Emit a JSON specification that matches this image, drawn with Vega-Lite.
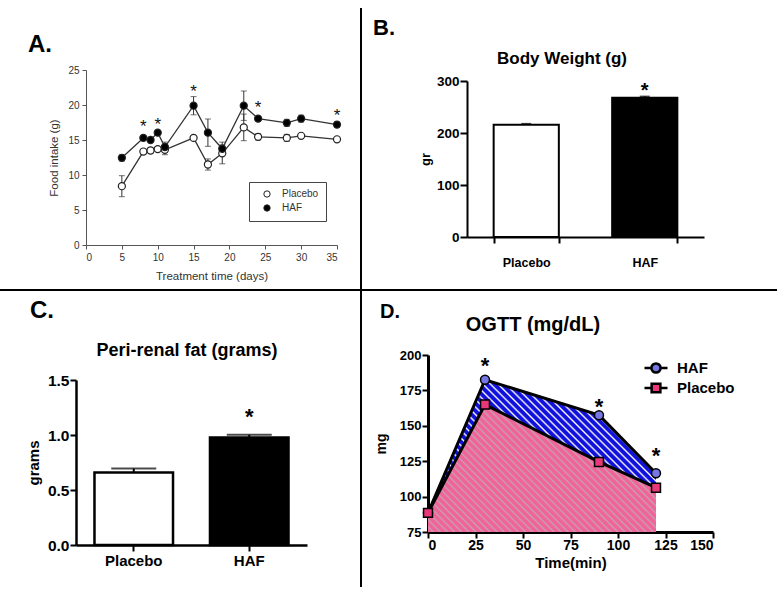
{
"$schema": "https://vega.github.io/schema/vega-lite/v6.json",
"background": "white",
"padding": 0,
"config": {"font": "Liberation Sans", "view": {"stroke": null}, "axis": {"grid": false}, "title": {"color": "black"}},
"datasets": {
"food": [
{"day":5,"g":"Placebo","m":8.4,"lo":6.9,"hi":9.9},
{"day":8,"g":"Placebo","m":13.35,"lo":13.0,"hi":13.7},
{"day":9,"g":"Placebo","m":13.5,"lo":13.1,"hi":13.9},
{"day":10,"g":"Placebo","m":13.7,"lo":13.4,"hi":14.0},
{"day":11,"g":"Placebo","m":13.6,"lo":12.9,"hi":14.4},
{"day":15,"g":"Placebo","m":15.3,"lo":15.1,"hi":15.5},
{"day":17,"g":"Placebo","m":11.5,"lo":10.7,"hi":12.3},
{"day":19,"g":"Placebo","m":13.1,"lo":11.6,"hi":14.7},
{"day":22,"g":"Placebo","m":16.8,"lo":14.9,"hi":18.7},
{"day":24,"g":"Placebo","m":15.45,"lo":15.0,"hi":15.9},
{"day":28,"g":"Placebo","m":15.3,"lo":14.8,"hi":15.8},
{"day":30,"g":"Placebo","m":15.6,"lo":15.4,"hi":15.8},
{"day":35,"g":"Placebo","m":15.1,"lo":14.9,"hi":15.3},
{"day":5,"g":"HAF","m":12.45,"lo":12.0,"hi":12.9},
{"day":8,"g":"HAF","m":15.3,"lo":15.1,"hi":15.5},
{"day":9,"g":"HAF","m":15.0,"lo":14.8,"hi":15.2},
{"day":10,"g":"HAF","m":16.05,"lo":15.85,"hi":16.25},
{"day":11,"g":"HAF","m":14.0,"lo":13.3,"hi":14.7},
{"day":15,"g":"HAF","m":19.9,"lo":18.6,"hi":21.2},
{"day":17,"g":"HAF","m":16.05,"lo":14.1,"hi":18.0},
{"day":19,"g":"HAF","m":13.75,"lo":13.2,"hi":14.3},
{"day":22,"g":"HAF","m":19.9,"lo":17.8,"hi":22.0},
{"day":24,"g":"HAF","m":18.05,"lo":17.8,"hi":18.3},
{"day":28,"g":"HAF","m":17.45,"lo":16.95,"hi":17.95},
{"day":30,"g":"HAF","m":18.05,"lo":17.55,"hi":18.55},
{"day":35,"g":"HAF","m":17.2,"lo":16.8,"hi":17.6}
],
"foodstar": [{"day":8,"y":17.4},{"day":10,"y":17.7},{"day":15,"y":22.5},{"day":24,"y":20.1},{"day":35,"y":19.0}],
"bw": [{"g":"Placebo","v":216,"hi":218},{"g":"HAF","v":268,"hi":270.5}],
"bwstar": [{"g":"HAF","y":290}],
"fat": [{"g":"Placebo","v":0.66,"hi":0.695},{"g":"HAF","v":0.978,"hi":1.002}],
"fatstar": [{"g":"HAF","y":1.21}],
"ogtt": [
{"t":0,"g":"HAF","v":88.5},{"t":30,"g":"HAF","v":182.5},{"t":90,"g":"HAF","v":157.5},{"t":120,"g":"HAF","v":116.5},
{"t":0,"g":"Placebo","v":88.5},{"t":30,"g":"Placebo","v":165},{"t":90,"g":"Placebo","v":124.5},{"t":120,"g":"Placebo","v":106.3}
],
"ogttstar": [{"t":30,"y":196},{"t":90,"y":166.6},{"t":120,"y":132.4}]
},
"columns": 3,
"align": "each",
"bounds": "flush",
"spacing": 0,
"resolve": {"scale": {"fill": "independent", "shape": "independent", "color": "independent"}, "legend": {"fill": "independent", "shape": "independent", "color": "independent"}},
"concat": [
{"width":360,"height":4,"data":{"values":[{}]},"mark":"text","encoding":{"text":{"value":""}},
 "title":{"text":"A.","anchor":"start","frame":"group","dx":28,"offset":-75.5,"baseline":"alphabetic","fontSize":24,"fontWeight":"bold"}},
{"width":2,"height":4,"data":{"values":[{}]},"mark":"text","encoding":{"text":{"value":""}}},
{"width":420,"height":4,"data":{"values":[{}]},"mark":"text","encoding":{"text":{"value":""}},
 "title":{"text":"B.","anchor":"start","frame":"group","dx":11,"offset":-57,"baseline":"alphabetic","fontSize":22,"fontWeight":"bold"}},

{"width":360,"height":281,"data":{"name":"food"},
 "layer":[
  {"mark":{"type":"errorbar","ticks":{"size":6},"color":"#333","thickness":1},
   "encoding":{
    "x":{"field":"day","type":"quantitative","title":"Treatment time (days)","scale":{"domain":[0,35],"nice":false,"range":[86,337]},
         "axis":{"offset":-44,"values":[0,5,10,15,20,25,30,35],"domainColor":"#555","tickColor":"#555","labelColor":"#333","titleColor":"#333","labelFontSize":10,"titleFontSize":11.5,"titleFontWeight":"normal","tickSize":4,"labelPadding":3,"titlePadding":8}},
    "y":{"field":"lo","type":"quantitative","title":"Food intake (g)","scale":{"domain":[0,25],"nice":false,"range":[237,62]},
         "axis":{"offset":-86,"values":[0,5,10,15,20,25],"domainColor":"#555","tickColor":"#555","labelColor":"#333","titleColor":"#333","labelFontSize":10,"titleFontSize":11.5,"titleFontWeight":"normal","tickSize":4,"labelPadding":3,"titlePadding":8}},
    "y2":{"field":"hi"}}},
  {"mark":{"type":"line","color":"#333","strokeWidth":1.3},
   "encoding":{"x":{"field":"day","type":"quantitative","title":"Treatment time (days)"},"y":{"field":"m","type":"quantitative","title":"Food intake (g)"},"detail":{"field":"g"}}},
  {"mark":{"type":"point","filled":true,"size":50,"stroke":"#222","strokeWidth":1.2,"opacity":1},
   "encoding":{"x":{"field":"day","type":"quantitative","title":"Treatment time (days)"},"y":{"field":"m","type":"quantitative","title":"Food intake (g)"},
    "fill":{"field":"g","type":"nominal","scale":{"domain":["Placebo","HAF"],"range":["white","black"]},
      "legend":{"title":null,"orient":"none","legendX":249,"legendY":174,"strokeColor":"#444","fillColor":"white","padding":7,"symbolSize":40,"symbolStrokeColor":"#222","symbolStrokeWidth":1,"symbolOffset":6,"labelOffset":10,"labelFontSize":10,"labelColor":"#333","rowPadding":2}}}},
  {"data":{"name":"foodstar"},"mark":{"type":"text","text":"*","fontSize":17,"dy":4,"color":"#111"},
   "encoding":{"x":{"field":"day","type":"quantitative","title":"Treatment time (days)"},"y":{"field":"y","type":"quantitative","title":"Food intake (g)"}}}
 ]},
{"width":2,"height":281,"view":{"fill":"black","stroke":null},"data":{"values":[{}]},"mark":"text","encoding":{"text":{"value":""}}},
{"width":420,"height":281,"data":{"name":"bw"},
 "title":{"text":"Body Weight (g)","anchor":"start","align":"center","frame":"group","dx":200,"offset":-73,"baseline":"alphabetic","fontSize":17,"fontWeight":"bold"},
 "encoding":{"x":{"field":"g","type":"nominal","sort":["Placebo","HAF"],"title":null,"scale":{"paddingInner":0.45,"paddingOuter":0.225,"range":[105,342]},
    "axis":{"offset":-52,"labelAngle":0,"tickBand":"extent","labelFontSize":12.5,"labelFontWeight":"bold","labelColor":"black","domainColor":"black","domainWidth":2,"tickColor":"black","tickWidth":2,"tickSize":6,"labelPadding":13}}},
 "layer":[
  {"mark":{"type":"bar","stroke":"black","strokeWidth":2},
   "encoding":{"y":{"field":"v","type":"quantitative","title":"gr","scale":{"domain":[0,300],"nice":false,"range":[229,73]},
      "axis":{"offset":-105,"values":[0,100,200,300],"labelFontSize":13.5,"labelFontWeight":"bold","labelColor":"black","domainColor":"black","domainWidth":2,"tickColor":"black","tickWidth":2,"tickSize":7,"labelPadding":1,"titleFontSize":13,"titleFontWeight":"bold","titlePadding":4}},
    "fill":{"field":"g","type":"nominal","scale":{"domain":["Placebo","HAF"],"range":["white","black"]},"legend":null}}},
  {"mark":{"type":"rule","color":"black","strokeWidth":1.5},"encoding":{"y":{"field":"v","type":"quantitative","title":"gr"},"y2":{"field":"hi"}}},
  {"mark":{"type":"tick","color":"black","thickness":1.5,"size":10},"encoding":{"y":{"field":"hi","type":"quantitative","title":"gr"}}},
  {"data":{"name":"bwstar"},"mark":{"type":"text","text":"*","fontSize":20,"fontWeight":"bold","dy":5,"color":"black"},"encoding":{"y":{"field":"y","type":"quantitative","title":"gr"}}}
 ]},

{"width":360,"height":2,"view":{"fill":"black","stroke":null},"data":{"values":[{}]},"mark":"text","encoding":{"text":{"value":""}},
 "title":{"text":"C.","anchor":"start","frame":"group","dx":30,"offset":-58,"baseline":"alphabetic","fontSize":24,"fontWeight":"bold"}},
{"width":2,"height":2,"view":{"fill":"black","stroke":null},"data":{"values":[{}]},"mark":"text","encoding":{"text":{"value":""}}},
{"width":415,"height":2,"view":{"fill":"black","stroke":null},"data":{"values":[{}]},"mark":"text","encoding":{"text":{"value":""}},
 "title":{"text":"D.","anchor":"start","frame":"group","dx":18,"offset":-54,"baseline":"alphabetic","fontSize":20,"fontWeight":"bold"}},

{"width":360,"height":296,"data":{"name":"fat"},
 "title":{"text":"Peri-renal fat (grams)","anchor":"start","align":"center","frame":"group","dx":187,"offset":-83,"baseline":"alphabetic","fontSize":18,"fontWeight":"bold"},
 "encoding":{"x":{"field":"g","type":"nominal","sort":["Placebo","HAF"],"title":null,"scale":{"paddingInner":0.32,"paddingOuter":0.16,"range":[76,307]},
    "axis":{"offset":-42,"labelAngle":0,"labelFontSize":15,"labelFontWeight":"bold","labelColor":"black","domainColor":"black","domainWidth":2.5,"tickColor":"black","tickWidth":2,"tickSize":6,"labelPadding":2}}},
 "layer":[
  {"mark":{"type":"bar","stroke":"black","strokeWidth":2.5},
   "encoding":{"y":{"field":"v","type":"quantitative","title":"grams","scale":{"domain":[0,1.5],"nice":false,"range":[254,89]},
      "axis":{"offset":-76,"values":[0,0.5,1,1.5],"format":".1f","labelFontSize":15.5,"labelFontWeight":"bold","labelColor":"black","domainColor":"black","domainWidth":2.5,"tickColor":"black","tickWidth":2,"tickSize":6,"labelPadding":1,"titleFontSize":15,"titleFontWeight":"bold","titlePadding":6}},
    "fill":{"field":"g","type":"nominal","scale":{"domain":["Placebo","HAF"],"range":["white","black"]},"legend":null}}},
  {"mark":{"type":"rule","color":"black","strokeWidth":2},"encoding":{"y":{"field":"v","type":"quantitative","title":"grams"},"y2":{"field":"hi"}}},
  {"mark":{"type":"tick","color":"black","thickness":2,"size":45},"encoding":{"y":{"field":"hi","type":"quantitative","title":"grams"}}},
  {"data":{"name":"fatstar"},"mark":{"type":"text","text":"*","fontSize":22,"fontWeight":"bold","dy":5,"color":"black"},"encoding":{"y":{"field":"y","type":"quantitative","title":"grams"}}}
 ]},
{"width":2,"height":296,"view":{"fill":"black","stroke":null},"data":{"values":[{}]},"mark":"text","encoding":{"text":{"value":""}}},
{"width":420,"height":296,"data":{"name":"ogtt"},
 "title":{"text":"OGTT (mg/dL)","anchor":"start","align":"center","frame":"group","dx":171,"offset":-60,"baseline":"alphabetic","fontSize":20,"fontWeight":"bold"},
 "layer":[
  {"transform":[{"filter":"datum.g === 'HAF'"}],
   "mark":{"type":"area","opacity":1,"fill":{"gradient":"linear","x1":0,"y1":1,"x2":1.15,"y2":0.23,"stops":[
{"offset":0,"color":"#11d"},{"offset":0.01,"color":"#11d"},{"offset":0.015,"color":"#fff"},
{"offset":0.02,"color":"#11d"},{"offset":0.03,"color":"#11d"},{"offset":0.035,"color":"#fff"},
{"offset":0.04,"color":"#11d"},{"offset":0.05,"color":"#11d"},{"offset":0.055,"color":"#fff"},
{"offset":0.06,"color":"#11d"},{"offset":0.07,"color":"#11d"},{"offset":0.075,"color":"#fff"},
{"offset":0.08,"color":"#11d"},{"offset":0.09,"color":"#11d"},{"offset":0.095,"color":"#fff"},
{"offset":0.1,"color":"#11d"},{"offset":0.11,"color":"#11d"},{"offset":0.115,"color":"#fff"},
{"offset":0.12,"color":"#11d"},{"offset":0.13,"color":"#11d"},{"offset":0.135,"color":"#fff"},
{"offset":0.14,"color":"#11d"},{"offset":0.15,"color":"#11d"},{"offset":0.155,"color":"#fff"},
{"offset":0.16,"color":"#11d"},{"offset":0.17,"color":"#11d"},{"offset":0.175,"color":"#fff"},
{"offset":0.18,"color":"#11d"},{"offset":0.19,"color":"#11d"},{"offset":0.195,"color":"#fff"},
{"offset":0.2,"color":"#11d"},{"offset":0.21,"color":"#11d"},{"offset":0.215,"color":"#fff"},
{"offset":0.22,"color":"#11d"},{"offset":0.23,"color":"#11d"},{"offset":0.235,"color":"#fff"},
{"offset":0.24,"color":"#11d"},{"offset":0.25,"color":"#11d"},{"offset":0.255,"color":"#fff"},
{"offset":0.26,"color":"#11d"},{"offset":0.27,"color":"#11d"},{"offset":0.275,"color":"#fff"},
{"offset":0.28,"color":"#11d"},{"offset":0.29,"color":"#11d"},{"offset":0.295,"color":"#fff"},
{"offset":0.3,"color":"#11d"},{"offset":0.31,"color":"#11d"},{"offset":0.315,"color":"#fff"},
{"offset":0.32,"color":"#11d"},{"offset":0.33,"color":"#11d"},{"offset":0.335,"color":"#fff"},
{"offset":0.34,"color":"#11d"},{"offset":0.35,"color":"#11d"},{"offset":0.355,"color":"#fff"},
{"offset":0.36,"color":"#11d"},{"offset":0.37,"color":"#11d"},{"offset":0.375,"color":"#fff"},
{"offset":0.38,"color":"#11d"},{"offset":0.39,"color":"#11d"},{"offset":0.395,"color":"#fff"},
{"offset":0.4,"color":"#11d"},{"offset":0.41,"color":"#11d"},{"offset":0.415,"color":"#fff"},
{"offset":0.42,"color":"#11d"},{"offset":0.43,"color":"#11d"},{"offset":0.435,"color":"#fff"},
{"offset":0.44,"color":"#11d"},{"offset":0.45,"color":"#11d"},{"offset":0.455,"color":"#fff"},
{"offset":0.46,"color":"#11d"},{"offset":0.47,"color":"#11d"},{"offset":0.475,"color":"#fff"},
{"offset":0.48,"color":"#11d"},{"offset":0.49,"color":"#11d"},{"offset":0.495,"color":"#fff"},
{"offset":0.5,"color":"#11d"},{"offset":0.51,"color":"#11d"},{"offset":0.515,"color":"#fff"},
{"offset":0.52,"color":"#11d"},{"offset":0.53,"color":"#11d"},{"offset":0.535,"color":"#fff"},
{"offset":0.54,"color":"#11d"},{"offset":0.55,"color":"#11d"},{"offset":0.555,"color":"#fff"},
{"offset":0.56,"color":"#11d"},{"offset":0.57,"color":"#11d"},{"offset":0.575,"color":"#fff"},
{"offset":0.58,"color":"#11d"},{"offset":0.59,"color":"#11d"},{"offset":0.595,"color":"#fff"},
{"offset":0.6,"color":"#11d"},{"offset":0.61,"color":"#11d"},{"offset":0.615,"color":"#fff"},
{"offset":0.62,"color":"#11d"},{"offset":0.63,"color":"#11d"},{"offset":0.635,"color":"#fff"},
{"offset":0.64,"color":"#11d"},{"offset":0.65,"color":"#11d"},{"offset":0.655,"color":"#fff"},
{"offset":0.66,"color":"#11d"},{"offset":0.67,"color":"#11d"},{"offset":0.675,"color":"#fff"},
{"offset":0.68,"color":"#11d"},{"offset":0.69,"color":"#11d"},{"offset":0.695,"color":"#fff"},
{"offset":0.7,"color":"#11d"},{"offset":0.71,"color":"#11d"},{"offset":0.715,"color":"#fff"},
{"offset":0.72,"color":"#11d"},{"offset":0.73,"color":"#11d"},{"offset":0.735,"color":"#fff"},
{"offset":0.74,"color":"#11d"},{"offset":0.75,"color":"#11d"},{"offset":0.755,"color":"#fff"},
{"offset":0.76,"color":"#11d"},{"offset":0.77,"color":"#11d"},{"offset":0.775,"color":"#fff"},
{"offset":0.78,"color":"#11d"},{"offset":0.79,"color":"#11d"},{"offset":0.795,"color":"#fff"},
{"offset":0.8,"color":"#11d"},{"offset":0.81,"color":"#11d"},{"offset":0.815,"color":"#fff"},
{"offset":0.82,"color":"#11d"},{"offset":0.83,"color":"#11d"},{"offset":0.835,"color":"#fff"},
{"offset":0.84,"color":"#11d"},{"offset":0.85,"color":"#11d"},{"offset":0.855,"color":"#fff"},
{"offset":0.86,"color":"#11d"},{"offset":0.87,"color":"#11d"},{"offset":0.875,"color":"#fff"},
{"offset":0.88,"color":"#11d"},{"offset":0.89,"color":"#11d"},{"offset":0.895,"color":"#fff"},
{"offset":0.9,"color":"#11d"},{"offset":0.91,"color":"#11d"},{"offset":0.915,"color":"#fff"},
{"offset":0.92,"color":"#11d"},{"offset":0.93,"color":"#11d"},{"offset":0.935,"color":"#fff"},
{"offset":0.94,"color":"#11d"},{"offset":0.95,"color":"#11d"},{"offset":0.955,"color":"#fff"},
{"offset":0.96,"color":"#11d"},{"offset":0.97,"color":"#11d"},{"offset":0.975,"color":"#fff"},
{"offset":0.98,"color":"#11d"},{"offset":0.99,"color":"#11d"},{"offset":0.995,"color":"#fff"},
{"offset":1,"color":"#11d"}]}},
   "encoding":{
    "x":{"field":"t","type":"quantitative","title":"Time(min)","scale":{"domain":[0,150],"nice":false,"range":[66,351]},
         "axis":{"offset":-55,"values":[0,25,50,75,100,125,150],"labelFontSize":14,"labelFontWeight":"bold","labelColor":"black","domainColor":"black","domainWidth":3,"tickColor":"black","tickWidth":2,"tickSize":6,"labelPadding":0,"titleFontSize":15,"titleFontWeight":"bold","titlePadding":3}},
    "y":{"field":"v","type":"quantitative","title":"mg","scale":{"domain":[75,200],"nice":false,"zero":false,"range":[241,64]},
         "axis":{"offset":-66,"values":[75,100,125,150,175,200],"labelFontSize":13,"labelFontWeight":"bold","labelColor":"black","domainColor":"black","domainWidth":3,"tickColor":"black","tickWidth":2,"tickSize":6,"labelPadding":1,"titleFontSize":14,"titleFontWeight":"bold","titlePadding":11}},
    "y2":{"datum":75}}},
  {"transform":[{"filter":"datum.g === 'Placebo'"}],
   "mark":{"type":"area","opacity":1,"fill":{"gradient":"linear","x1":0,"y1":1,"x2":1.19,"y2":0.34,"stops":[
{"offset":0,"color":"#f0649a"},{"offset":0.01,"color":"#f0649a"},{"offset":0.015,"color":"#c4a2b0"},
{"offset":0.02,"color":"#f0649a"},{"offset":0.03,"color":"#f0649a"},{"offset":0.035,"color":"#c4a2b0"},
{"offset":0.04,"color":"#f0649a"},{"offset":0.05,"color":"#f0649a"},{"offset":0.055,"color":"#c4a2b0"},
{"offset":0.06,"color":"#f0649a"},{"offset":0.07,"color":"#f0649a"},{"offset":0.075,"color":"#c4a2b0"},
{"offset":0.08,"color":"#f0649a"},{"offset":0.09,"color":"#f0649a"},{"offset":0.095,"color":"#c4a2b0"},
{"offset":0.1,"color":"#f0649a"},{"offset":0.11,"color":"#f0649a"},{"offset":0.115,"color":"#c4a2b0"},
{"offset":0.12,"color":"#f0649a"},{"offset":0.13,"color":"#f0649a"},{"offset":0.135,"color":"#c4a2b0"},
{"offset":0.14,"color":"#f0649a"},{"offset":0.15,"color":"#f0649a"},{"offset":0.155,"color":"#c4a2b0"},
{"offset":0.16,"color":"#f0649a"},{"offset":0.17,"color":"#f0649a"},{"offset":0.175,"color":"#c4a2b0"},
{"offset":0.18,"color":"#f0649a"},{"offset":0.19,"color":"#f0649a"},{"offset":0.195,"color":"#c4a2b0"},
{"offset":0.2,"color":"#f0649a"},{"offset":0.21,"color":"#f0649a"},{"offset":0.215,"color":"#c4a2b0"},
{"offset":0.22,"color":"#f0649a"},{"offset":0.23,"color":"#f0649a"},{"offset":0.235,"color":"#c4a2b0"},
{"offset":0.24,"color":"#f0649a"},{"offset":0.25,"color":"#f0649a"},{"offset":0.255,"color":"#c4a2b0"},
{"offset":0.26,"color":"#f0649a"},{"offset":0.27,"color":"#f0649a"},{"offset":0.275,"color":"#c4a2b0"},
{"offset":0.28,"color":"#f0649a"},{"offset":0.29,"color":"#f0649a"},{"offset":0.295,"color":"#c4a2b0"},
{"offset":0.3,"color":"#f0649a"},{"offset":0.31,"color":"#f0649a"},{"offset":0.315,"color":"#c4a2b0"},
{"offset":0.32,"color":"#f0649a"},{"offset":0.33,"color":"#f0649a"},{"offset":0.335,"color":"#c4a2b0"},
{"offset":0.34,"color":"#f0649a"},{"offset":0.35,"color":"#f0649a"},{"offset":0.355,"color":"#c4a2b0"},
{"offset":0.36,"color":"#f0649a"},{"offset":0.37,"color":"#f0649a"},{"offset":0.375,"color":"#c4a2b0"},
{"offset":0.38,"color":"#f0649a"},{"offset":0.39,"color":"#f0649a"},{"offset":0.395,"color":"#c4a2b0"},
{"offset":0.4,"color":"#f0649a"},{"offset":0.41,"color":"#f0649a"},{"offset":0.415,"color":"#c4a2b0"},
{"offset":0.42,"color":"#f0649a"},{"offset":0.43,"color":"#f0649a"},{"offset":0.435,"color":"#c4a2b0"},
{"offset":0.44,"color":"#f0649a"},{"offset":0.45,"color":"#f0649a"},{"offset":0.455,"color":"#c4a2b0"},
{"offset":0.46,"color":"#f0649a"},{"offset":0.47,"color":"#f0649a"},{"offset":0.475,"color":"#c4a2b0"},
{"offset":0.48,"color":"#f0649a"},{"offset":0.49,"color":"#f0649a"},{"offset":0.495,"color":"#c4a2b0"},
{"offset":0.5,"color":"#f0649a"},{"offset":0.51,"color":"#f0649a"},{"offset":0.515,"color":"#c4a2b0"},
{"offset":0.52,"color":"#f0649a"},{"offset":0.53,"color":"#f0649a"},{"offset":0.535,"color":"#c4a2b0"},
{"offset":0.54,"color":"#f0649a"},{"offset":0.55,"color":"#f0649a"},{"offset":0.555,"color":"#c4a2b0"},
{"offset":0.56,"color":"#f0649a"},{"offset":0.57,"color":"#f0649a"},{"offset":0.575,"color":"#c4a2b0"},
{"offset":0.58,"color":"#f0649a"},{"offset":0.59,"color":"#f0649a"},{"offset":0.595,"color":"#c4a2b0"},
{"offset":0.6,"color":"#f0649a"},{"offset":0.61,"color":"#f0649a"},{"offset":0.615,"color":"#c4a2b0"},
{"offset":0.62,"color":"#f0649a"},{"offset":0.63,"color":"#f0649a"},{"offset":0.635,"color":"#c4a2b0"},
{"offset":0.64,"color":"#f0649a"},{"offset":0.65,"color":"#f0649a"},{"offset":0.655,"color":"#c4a2b0"},
{"offset":0.66,"color":"#f0649a"},{"offset":0.67,"color":"#f0649a"},{"offset":0.675,"color":"#c4a2b0"},
{"offset":0.68,"color":"#f0649a"},{"offset":0.69,"color":"#f0649a"},{"offset":0.695,"color":"#c4a2b0"},
{"offset":0.7,"color":"#f0649a"},{"offset":0.71,"color":"#f0649a"},{"offset":0.715,"color":"#c4a2b0"},
{"offset":0.72,"color":"#f0649a"},{"offset":0.73,"color":"#f0649a"},{"offset":0.735,"color":"#c4a2b0"},
{"offset":0.74,"color":"#f0649a"},{"offset":0.75,"color":"#f0649a"},{"offset":0.755,"color":"#c4a2b0"},
{"offset":0.76,"color":"#f0649a"},{"offset":0.77,"color":"#f0649a"},{"offset":0.775,"color":"#c4a2b0"},
{"offset":0.78,"color":"#f0649a"},{"offset":0.79,"color":"#f0649a"},{"offset":0.795,"color":"#c4a2b0"},
{"offset":0.8,"color":"#f0649a"},{"offset":0.81,"color":"#f0649a"},{"offset":0.815,"color":"#c4a2b0"},
{"offset":0.82,"color":"#f0649a"},{"offset":0.83,"color":"#f0649a"},{"offset":0.835,"color":"#c4a2b0"},
{"offset":0.84,"color":"#f0649a"},{"offset":0.85,"color":"#f0649a"},{"offset":0.855,"color":"#c4a2b0"},
{"offset":0.86,"color":"#f0649a"},{"offset":0.87,"color":"#f0649a"},{"offset":0.875,"color":"#c4a2b0"},
{"offset":0.88,"color":"#f0649a"},{"offset":0.89,"color":"#f0649a"},{"offset":0.895,"color":"#c4a2b0"},
{"offset":0.9,"color":"#f0649a"},{"offset":0.91,"color":"#f0649a"},{"offset":0.915,"color":"#c4a2b0"},
{"offset":0.92,"color":"#f0649a"},{"offset":0.93,"color":"#f0649a"},{"offset":0.935,"color":"#c4a2b0"},
{"offset":0.94,"color":"#f0649a"},{"offset":0.95,"color":"#f0649a"},{"offset":0.955,"color":"#c4a2b0"},
{"offset":0.96,"color":"#f0649a"},{"offset":0.97,"color":"#f0649a"},{"offset":0.975,"color":"#c4a2b0"},
{"offset":0.98,"color":"#f0649a"},{"offset":0.99,"color":"#f0649a"},{"offset":0.995,"color":"#c4a2b0"},
{"offset":1,"color":"#f0649a"}]}},
   "encoding":{"x":{"field":"t","type":"quantitative","title":"Time(min)"},"y":{"field":"v","type":"quantitative","title":"mg"},"y2":{"datum":75}}},
  {"mark":{"type":"line","color":"black","strokeWidth":3},
   "encoding":{"x":{"field":"t","type":"quantitative","title":"Time(min)"},"y":{"field":"v","type":"quantitative","title":"mg"},"detail":{"field":"g"}}},
  {"transform":[{"filter":"datum.g === 'HAF'"}],
   "mark":{"type":"point","shape":"circle","filled":true,"size":80,"stroke":"black","strokeWidth":1.5,"opacity":1},
   "encoding":{"x":{"field":"t","type":"quantitative","title":"Time(min)"},"y":{"field":"v","type":"quantitative","title":"mg"},
    "fill":{"field":"g","type":"nominal","scale":{"domain":["HAF"],"range":["#7676e4"]},
      "legend":{"title":null,"orient":"none","legendX":281,"legendY":64,"padding":0,"symbolType":"M-1,0H-0.4M0.4,0H1M-0.4,0A0.4,0.4,0,1,1,0.4,0A0.4,0.4,0,1,1,-0.4,0Z","symbolSize":529,"symbolStrokeColor":"black","symbolStrokeWidth":2.5,"labelFontSize":15,"labelFontWeight":"bold","labelColor":"black","labelOffset":8}}}},
  {"transform":[{"filter":"datum.g === 'Placebo'"}],
   "mark":{"type":"point","shape":"square","filled":true,"size":80,"stroke":"black","strokeWidth":1.5,"opacity":1},
   "encoding":{"x":{"field":"t","type":"quantitative","title":"Time(min)"},"y":{"field":"v","type":"quantitative","title":"mg"},
    "color":{"field":"g","type":"nominal","scale":{"domain":["Placebo"],"range":["#e8387a"]},
      "legend":{"title":null,"orient":"none","legendX":281,"legendY":84,"padding":0,"symbolType":"M-1,0H-0.38M0.38,0H1M-0.38,-0.38H0.38V0.38H-0.38Z","symbolSize":529,"symbolStrokeColor":"black","symbolStrokeWidth":2.5,"labelFontSize":15,"labelFontWeight":"bold","labelColor":"black","labelOffset":8}}}},
  {"data":{"name":"ogttstar"},"mark":{"type":"text","text":"*","fontSize":22,"fontWeight":"bold","dy":5,"color":"black"},
   "encoding":{"x":{"field":"t","type":"quantitative","title":"Time(min)"},"y":{"field":"y","type":"quantitative","title":"mg"}}}
 ]}
]
}
